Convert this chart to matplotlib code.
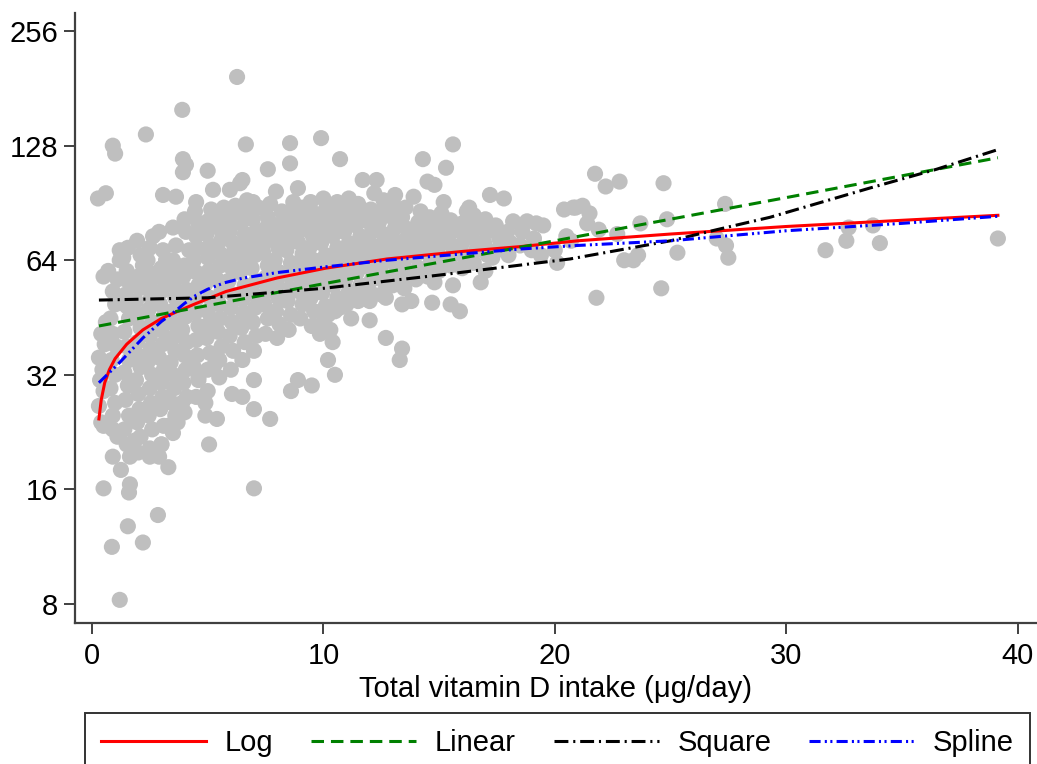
import matplotlib
matplotlib.use("Agg")
import matplotlib.pyplot as plt
import numpy as np

# scattered points (x = vitamin D intake, y = serum level)
sparse_pts = [
    (0.26, 93), (0.6, 96), (0.9, 128), (1.0, 122), (2.33, 137), (3.9, 159), (6.27, 194),
    (6.65, 129), (8.56, 130), (9.9, 134), (3.93, 118), (4.06, 114), (3.93, 109), (5.0, 110),
    (7.6, 111), (8.56, 115), (8.9, 99), (7.95, 97), (5.23, 98), (5.96, 98), (6.4, 102),
    (6.5, 104), (3.07, 95), (3.63, 94), (4.5, 91), (5.7, 88), (6.2, 89), (6.7, 92), (6.96, 91),
    (10.72, 118), (15.6, 129), (14.3, 118), (15.3, 112), (11.7, 104), (12.3, 104), (14.5, 103),
    (14.8, 101), (13.1, 95), (13.9, 94), (17.2, 95), (17.8, 93), (16.3, 88), (20.4, 87),
    (20.8, 88), (18.2, 81), (18.8, 81), (19.5, 79), (19.2, 80), (20.5, 74), (20.0, 68),
    (21.74, 108), (22.2, 100), (22.8, 103), (24.7, 102), (20.9, 88), (21.2, 89), (21.5, 85),
    (21.4, 80), (21.9, 77), (22.7, 75), (23.7, 80), (24.85, 82), (27.36, 90), (20.7, 72),
    (25.3, 67), (23.6, 66), (23.0, 64), (23.4, 64), (27.0, 73), (27.4, 70), (27.5, 65),
    (24.6, 54), (21.8, 51), (31.7, 68), (32.6, 72), (32.7, 78), (33.75, 79), (34.05, 71),
    (39.15, 73),
]

low_pts = [
    (11.2, 45), (12.0, 44.5), (12.7, 40), (13.4, 37.5), (13.3, 35), (10.2, 35), (10.4, 39),
    (10.5, 32), (13.4, 49), (13.8, 50), (14.7, 49.5), (15.5, 49), (15.9, 47), (16.8, 56),
    (15.6, 55), (14.8, 56), (19.4, 66), (20.1, 63), (17.3, 65), (12.7, 51), (12.0, 50),
    (11.5, 50), (10.7, 48), (10.2, 46), (9.85, 41), (10.3, 42),
    (7.0, 16.1), (5.06, 21), (7.0, 26), (7.7, 24.5), (7.0, 31), (8.9, 31), (9.5, 30),
    (8.6, 29), (5.3, 34), (5.5, 31.5), (4.6, 31.5), (5.0, 29), (6.05, 28.5), (6.5, 28),
    (4.9, 27), (3.9, 27), (4.9, 25), (5.4, 24.5), (3.3, 23.5), (3.7, 24),
    (0.5, 23.5), (0.9, 23), (1.1, 22), (0.9, 19.5), (1.85, 21.5), (1.64, 19.5), (2.5, 19.5),
    (3.0, 21), (2.9, 19.5), (3.3, 18.3), (1.25, 18), (1.64, 16.5), (1.6, 15.7), (0.5, 16.1),
    (2.85, 13.7), (1.55, 12.8), (0.86, 11.3), (2.2, 11.6), (1.2, 8.2),
]

cloud_left = [
    (0.4, 24), (0.3, 26.5), (0.5, 29), (0.35, 31), (0.45, 33), (0.3, 35.5), (0.55, 38.5),
    (0.4, 41), (0.6, 44), (0.5, 58),
    (0.9, 25), (1.0, 27), (0.8, 29.5), (1.0, 32), (0.85, 35), (1.05, 38), (0.9, 41), (0.8, 45),
    (1.0, 49), (0.9, 53), (1.1, 57), (0.7, 60), (1.2, 64), (1.2, 68),
    (1.5, 21), (1.4, 23), (1.6, 25), (1.45, 27.5), (1.55, 30), (1.4, 32.5), (1.6, 35),
    (1.5, 38), (1.4, 41.5), (1.6, 45), (1.5, 48.5), (1.45, 52), (1.6, 56), (1.5, 60),
    (1.55, 69), (1.35, 65),
    (2.0, 20), (2.1, 22), (1.95, 24), (2.05, 26), (2.0, 28.5), (1.9, 31), (2.1, 33.5),
    (2.0, 36), (1.95, 39), (2.1, 42.5), (2.0, 46), (1.9, 50), (2.05, 54), (2.0, 58),
    (1.95, 72), (2.1, 66), (2.2, 62),
    (2.5, 20.5), (2.6, 23), (2.45, 25), (2.55, 27), (2.5, 29.5), (2.6, 32), (2.4, 34.5),
    (2.55, 37.5), (2.5, 40.5), (2.6, 44), (2.45, 47.5), (2.55, 51), (2.5, 55), (2.6, 59),
    (2.64, 74), (2.5, 69), (2.4, 64),
    (3.0, 21), (3.1, 23.5), (2.95, 26), (3.05, 28), (3.0, 30.5), (3.1, 33), (2.9, 35.5),
    (3.05, 38.5), (3.0, 42), (3.1, 45.5), (2.95, 49), (3.0, 53), (3.1, 57), (3.0, 61),
    (3.07, 68), (3.2, 64), (2.9, 76),
    (3.5, 22.5), (3.6, 25), (3.45, 27), (3.55, 29.5), (3.5, 32), (3.4, 34.5), (3.6, 37),
    (3.5, 40), (3.55, 43.5), (3.45, 47), (3.6, 51), (3.5, 55), (3.6, 60), (3.5, 64),
    (3.63, 70), (3.5, 78),
    (4.0, 25.5), (4.1, 28), (3.95, 30.5), (4.05, 33), (4.0, 36), (4.1, 39), (3.9, 42),
    (4.05, 45.5), (4.0, 49.5), (4.1, 53.5), (3.95, 58), (4.0, 62), (4.2, 68), (4.06, 76),
    (4.0, 82),
]

cloud_mid = [
    (4.5, 28), (4.6, 31), (4.4, 33.5), (4.55, 36), (4.5, 39.5), (4.6, 43), (4.45, 46.5),
    (4.5, 50.5), (4.6, 55), (4.5, 59.5), (4.4, 64), (4.55, 69), (4.5, 74), (4.6, 80), (4.45, 86),
    (5.0, 33), (5.1, 36.5), (4.95, 40), (5.05, 43.5), (5.0, 47), (5.1, 51), (4.9, 55.5),
    (5.05, 60), (5.0, 65), (5.1, 70), (4.95, 75), (5.0, 81), (5.15, 87),
    (5.5, 35), (5.6, 38), (5.45, 41.5), (5.55, 45), (5.5, 49), (5.6, 53), (5.4, 57),
    (5.55, 62), (5.5, 67), (5.6, 72.5), (5.45, 78), (5.5, 83),
    (6.0, 33), (6.1, 37), (5.95, 40.5), (6.05, 44), (6.0, 48), (6.1, 52), (5.9, 56.5),
    (6.05, 61), (6.0, 66), (6.1, 71), (5.95, 76), (6.0, 81), (6.2, 86),
    (6.5, 35), (6.6, 39), (6.45, 42.5), (6.55, 46.5), (6.5, 50.5), (6.6, 55), (6.4, 59.5),
    (6.55, 64.5), (6.5, 69.5), (6.6, 75), (6.45, 80), (6.7, 85),
    (7.0, 37), (7.1, 40.5), (6.95, 44), (7.05, 48), (7.0, 52), (7.1, 56.5), (6.9, 61),
    (7.05, 66), (7.0, 71), (7.1, 76.5), (6.95, 82), (7.2, 88),
    (7.5, 41), (7.6, 45), (7.45, 49), (7.55, 53), (7.5, 57.5), (7.6, 62), (7.4, 67),
    (7.55, 72), (7.5, 77.5), (7.6, 83), (7.7, 90),
    (8.0, 40), (8.1, 43.5), (7.95, 47), (8.05, 51), (8.0, 55), (8.1, 59.5), (7.9, 64),
    (8.05, 69), (8.0, 74), (8.1, 79.5), (8.2, 86),
    (8.5, 42), (8.6, 46), (8.45, 50), (8.55, 54), (8.5, 58.5), (8.6, 63), (8.4, 68),
    (8.55, 73), (8.5, 78.5), (8.6, 84), (8.7, 91),
    (9.0, 45), (9.1, 49), (8.95, 53), (9.05, 57), (9.0, 62), (9.1, 66.5), (8.9, 71.5),
    (9.05, 77), (9.0, 82.5), (9.1, 88),
    (9.5, 43), (9.6, 47), (9.45, 51), (9.55, 55), (9.5, 59.5), (9.6, 64), (9.4, 69),
    (9.55, 74), (9.5, 79.5), (9.6, 85), (9.45, 91),
    (10.0, 44), (10.1, 48.5), (9.95, 52.5), (10.05, 57), (10.0, 61.5), (10.1, 66), (9.9, 71),
    (10.05, 76), (10.0, 81.5), (10.1, 87), (10.0, 93),
    (10.5, 47), (10.6, 51), (10.45, 55), (10.55, 59.5), (10.5, 64), (10.6, 69), (10.4, 74),
    (10.55, 79), (10.5, 85), (10.6, 91),
    (11.0, 49), (11.1, 53), (10.95, 57), (11.05, 61.5), (11.0, 66), (11.1, 71), (10.9, 76),
    (11.05, 81.5), (11.0, 87), (11.1, 93),
    (11.5, 51), (11.6, 55), (11.45, 59.5), (11.55, 64), (11.5, 69), (11.6, 74), (11.4, 79),
    (11.55, 85), (11.5, 90),
    (12.0, 53), (12.1, 57), (11.95, 61.5), (12.05, 66), (12.0, 71), (12.1, 76), (11.9, 81),
    (12.05, 87), (12.2, 96),
    (12.5, 52), (12.6, 56.5), (12.45, 61), (12.55, 65.5), (12.5, 70), (12.6, 75), (12.4, 80.5),
    (12.55, 86), (12.6, 92),
]

cloud_right = [
    (13.0, 55), (13.1, 59), (12.95, 63.5), (13.05, 68), (13.0, 73), (13.1, 78), (12.9, 83.5),
    (13.05, 89),
    (13.5, 54), (13.6, 58), (13.45, 62.5), (13.55, 67), (13.5, 72), (13.6, 77.5), (13.4, 83),
    (13.55, 88),
    (14.0, 57), (14.1, 61), (13.95, 65.5), (14.05, 70), (14.0, 75), (14.1, 80.5), (14.2, 86),
    (14.5, 58), (14.6, 62.5), (14.45, 67), (14.55, 72), (14.5, 77), (14.6, 83),
    (15.0, 60), (15.1, 64.5), (14.95, 69), (15.05, 74), (15.0, 79), (15.1, 85), (15.2, 91),
    (15.5, 62), (15.6, 66.5), (15.45, 71), (15.55, 76), (15.5, 81.5),
    (16.0, 61), (16.1, 65), (15.95, 70), (16.05, 75), (16.0, 80), (16.2, 86),
    (16.5, 63), (16.6, 68), (16.45, 73), (16.55, 78), (16.5, 84),
    (17.0, 60), (17.1, 66), (16.95, 71), (17.05, 76), (17.0, 82),
    (17.5, 68), (17.6, 73), (17.45, 79),
    (18.0, 66), (18.1, 71), (17.95, 76),
    (18.5, 70), (18.6, 76),
    (19.0, 68), (19.1, 73),
]

# fitted curves
log_x = [0.3, 0.4, 0.55, 0.75, 1.0, 1.5, 2.2, 3.0, 4.4, 5.8, 8.0, 10.1, 12.75, 16, 18.5, 21, 25, 30, 35, 39.15]
log_y = [24.5, 27.5, 30.5, 33, 35.3, 38.5, 42, 45, 49, 53, 57.5, 61, 64.5, 67.5, 69.5, 72, 75, 78.5, 81.5, 84]

lin_x = [0.3, 10, 20, 30, 39.15]
lin_y = [43, 55.5, 72, 93.5, 119]

sq_x = [0.3, 5, 10, 15, 20.66, 25, 27, 29.3, 33.6, 36.5, 39.15]
sq_y = [50.3, 51, 54, 58.5, 64.5, 72, 77, 83, 99, 111, 125]

spl_x = [0.3, 1.2, 2.2, 3.0, 3.5, 4.0, 4.5, 5.0, 5.7, 6.5, 8.0, 10.1, 12.75, 16, 18.5, 21, 25, 30, 35, 39.15]
spl_y = [30.5, 34.5, 40.0, 44.2, 46.5, 49.3, 51.8, 53.7, 55.8, 57.4, 59.4, 61.5, 64, 66.5, 68.5, 70, 72, 76.5, 80, 83.5]

y_ticks = [8, 16, 32, 64, 128, 256]
x_ticks = [0, 10, 20, 30, 40]

plt.rcParams['font.family'] = ['Liberation Sans', 'DejaVu Sans']
plt.rcParams['lines.scale_dashes'] = False

fig = plt.figure(figsize=(10.37, 7.64), dpi=100)
ax = fig.add_axes([0.0723, 0.1846, 0.9277, 0.7984])

pts = np.array(sparse_pts + low_pts + cloud_left + cloud_mid + cloud_right)
ax.scatter(pts[:, 0], pts[:, 1], s=135, color='#bfbfbf', edgecolors='none', zorder=1)

lw = 2.2
ax.plot(log_x, log_y, color='#ff0000', lw=lw, label='Log', zorder=3)
ax.plot(lin_x, lin_y, color='#008000', lw=lw, dashes=(9, 5), label='Linear', zorder=3)
ax.plot(sq_x, sq_y, color='black', lw=lw, dashes=(10, 3.5, 1.5, 3.5), label='Square', zorder=3)
ax.plot(spl_x, spl_y, color='#0000ff', lw=lw, dashes=(8, 3, 1.5, 2.5, 1.5, 3), label='Spline', zorder=3)

ax.set_yscale('log', base=2)
ax.set_ylim(7.13, 285.7)
ax.set_xlim(-0.735, 40.84)
ax.set_yticks(y_ticks)
ax.set_yticklabels([str(v) for v in y_ticks])
ax.minorticks_off()
ax.set_xticks(x_ticks)

for s in ['top', 'right']:
    ax.spines[s].set_visible(False)
for s in ['left', 'bottom']:
    ax.spines[s].set_color('#404040')
    ax.spines[s].set_linewidth(1.6)
ax.tick_params(axis='both', length=8, width=1.4, color='#404040', labelsize=21)
ax.tick_params(axis='y', pad=4)
ax.tick_params(axis='x', pad=6)
ax.set_xlabel('Total vitamin D intake (\u03bcg/day)', fontsize=21, labelpad=3)

leg = fig.legend(loc='upper left', bbox_to_anchor=(85 / 1037, -0.2, 945 / 1037, 0.2 + 1 - 713 / 764),
                 mode='expand', ncol=4, fontsize=21, handlelength=3.6, handletextpad=0.65,
                 borderaxespad=0, borderpad=0.55, fancybox=False, frameon=True)
leg.get_frame().set_edgecolor('black')
leg.get_frame().set_linewidth(1.4)

fig.savefig('out.png', dpi=100)
